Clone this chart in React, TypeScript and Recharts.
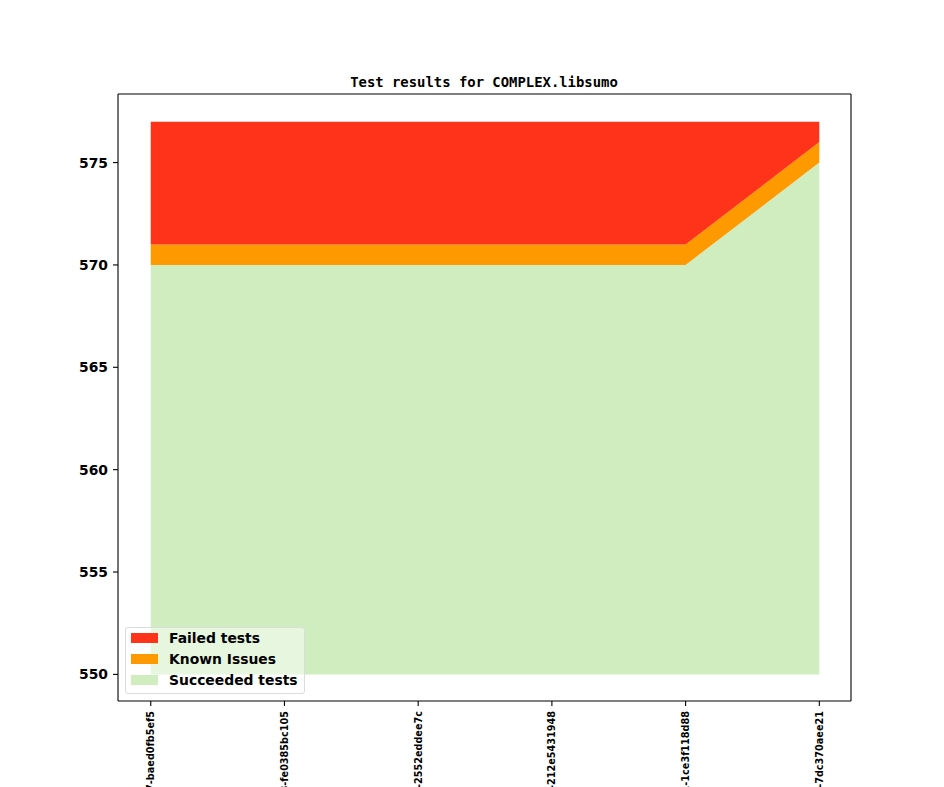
import { AreaChart, Area, XAxis, YAxis, ReferenceLine } from 'recharts';

// commit labels on the x axis (only the tail end is visible in the picture)
const commits = [
  'v1_19_0+0417-baed0fb5ef5',
  'v1_19_0+0418-fe0385bc105',
  'v1_19_0+0419-2552eddee7c',
  'v1_19_0+0420-212e5431948',
  'v1_19_0+0421-1ce3f118d88',
  'v1_19_0+0422-7dc370aee21',
];

const baseline = 550;
const succeeded = [570, 570, 570, 570, 570, 575];
const knownIssues = [1, 1, 1, 1, 1, 1];
const failed = [6, 6, 6, 6, 6, 1];

const yTicks = [550, 555, 560, 565, 570, 575];
const xTicks = [0, 1, 2, 3, 4, 5];

const X_DOMAIN = [-0.245, 5.237];
const Y_DOMAIN = [548.7, 578.35];

const COLORS = {
  failed: '#ff321a',
  known: '#ff9900',
  succeeded: '#cfedbf',
};

const FONT = "'DejaVu Sans', sans-serif";

const data = commits.map((label, i) => {
  const s = succeeded[i];
  const k = s + knownIssues[i];
  const f = k + failed[i];
  return {
    x: i,
    label,
    succ: [baseline, s],
    known: [s, k],
    failed: [k, f],
  };
});

const CommitTick = (props: any) => {
  const { x, y, payload } = props;
  return (
    <text
      x={x}
      y={y}
      transform={`rotate(-90, ${x}, ${y})`}
      textAnchor="end"
      dy="0.35em"
      fontSize={9.7}
      fontWeight="bold"
      fontFamily={FONT}
      fill="#000"
    >
      {commits[payload.value]}
    </text>
  );
};

const legendItems = [
  { name: 'Failed tests', color: COLORS.failed },
  { name: 'Known Issues', color: COLORS.known },
  { name: 'Succeeded tests', color: COLORS.succeeded },
];

export default function App() {
  return (
    <div style={{ position: 'absolute', left: 0, top: 0, width: 944, height: 787, background: '#fff', overflow: 'hidden' }}>
      <div
        style={{
          position: 'absolute',
          left: 118,
          top: 75,
          width: 732,
          textAlign: 'center',
          fontFamily: "'DejaVu Sans Mono', monospace",
          fontWeight: 'bold',
          fontSize: 13.9,
          lineHeight: '14px',
        }}
      >
        Test results for COMPLEX.libsumo
      </div>
      <AreaChart width={944} height={787} data={data} margin={{ top: 94, right: 93, bottom: 0, left: 58 }}>
        <XAxis
          dataKey="x"
          type="number"
          domain={X_DOMAIN}
          ticks={xTicks}
          allowDataOverflow
          height={86}
          tickSize={5}
          tickMargin={5}
          tick={<CommitTick />}
          axisLine={{ stroke: '#000', strokeWidth: 1.1 }}
          tickLine={{ stroke: '#000', strokeWidth: 1.1 }}
        />
        <YAxis
          type="number"
          domain={Y_DOMAIN}
          ticks={yTicks}
          allowDataOverflow
          width={60}
          tickSize={5}
          tickMargin={5}
          tick={{ fontSize: 13.9, fontWeight: 'bold', fontFamily: FONT, fill: '#000' }}
          axisLine={{ stroke: '#000', strokeWidth: 1.1 }}
          tickLine={{ stroke: '#000', strokeWidth: 1.1 }}
        />
        <Area type="linear" dataKey="succ" stroke="none" fill={COLORS.succeeded} fillOpacity={1} isAnimationActive={false} />
        <Area type="linear" dataKey="known" stroke="none" fill={COLORS.known} fillOpacity={1} isAnimationActive={false} />
        <Area type="linear" dataKey="failed" stroke="none" fill={COLORS.failed} fillOpacity={1} isAnimationActive={false} />
        {/* top and right spines */}
        <ReferenceLine y={Y_DOMAIN[1]} stroke="#000" strokeWidth={1.1} />
        <ReferenceLine x={X_DOMAIN[1]} stroke="#000" strokeWidth={1.1} />
      </AreaChart>
      <div
        style={{
          position: 'absolute',
          left: 125,
          top: 627,
          width: 178,
          height: 65,
          background: 'rgba(255,255,255,0.5)',
          border: '1px solid #dcdcdc',
          borderRadius: 3,
          fontFamily: FONT,
          fontWeight: 'bold',
          fontSize: 13.9,
        }}
      >
        {legendItems.map((item, i) => (
          <div key={item.name}>
            <div
              style={{
                position: 'absolute',
                left: 5,
                top: 5 + i * 20.8,
                width: 27,
                height: 10,
                background: item.color,
              }}
            />
            <div style={{ position: 'absolute', left: 43, top: 3 + i * 20.8, lineHeight: '14px', whiteSpace: 'nowrap' }}>
              {item.name}
            </div>
          </div>
        ))}
      </div>
    </div>
  );
}
